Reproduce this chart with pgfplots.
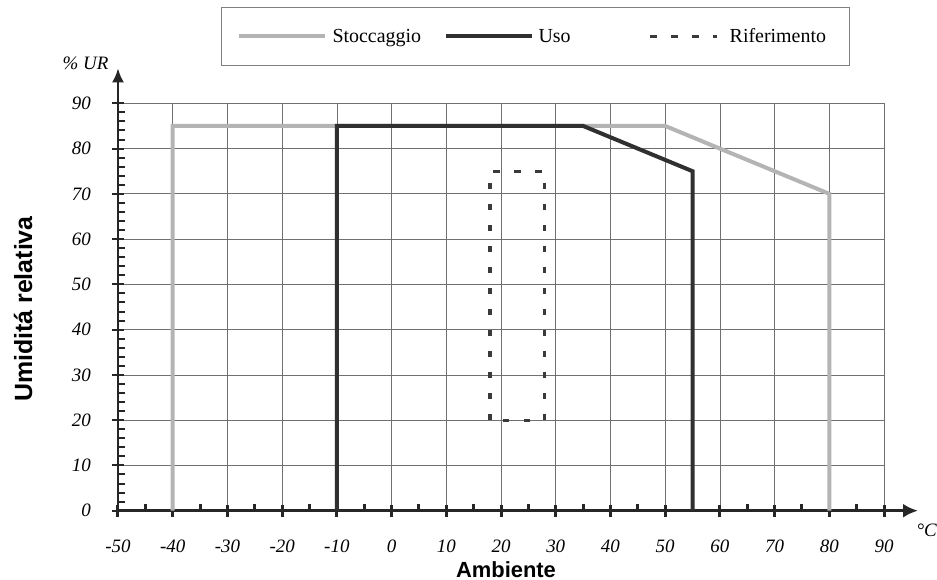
\documentclass[border=0pt]{standalone}
\usepackage{fontspec}
\setmainfont{Liberation Serif}
\newfontfamily\arialfont{Liberation Sans}
\usepackage{pgfplots}
\pgfplotsset{compat=1.18}
\usetikzlibrary{arrows.meta}

\definecolor{stoc}{HTML}{B4B4B4}
\definecolor{uso}{HTML}{303030}
\definecolor{rif}{HTML}{3A3A3A}
\definecolor{gridc}{HTML}{707070}

% legend image of the given length
\pgfplotsset{
  long legend/.style={legend image code/.code={\draw[##1] (0bp,0bp) -- (86bp,0bp);}},
  short legend/.style={legend image code/.code={\draw[##1] (0bp,0bp) -- (67bp,0bp);}},
}

\begin{document}
\begin{tikzpicture}
\begin{axis}[
  scale only axis,
  width=766bp, height=407.4bp,
  xmin=-50, xmax=90, ymin=0, ymax=90,
  axis lines=left,
  clip mode=individual,
  xtick={-50,-40,...,90}, ytick={0,10,...,90},
  minor x tick num=1, minor y tick num=4,
  grid=major,
  major grid style={gridc, line width=0.7bp},
  tick align=center,
  major tick length=12bp, minor tick length=7bp,
  x tick style={black!85, line width=3bp},
  y tick style={black!85, line width=2bp},
  minor x tick style={yshift=3.5bp},
  minor y tick style={xshift=3.5bp},
  x axis line style={black!85, line width=3.5bp, -{Latex[length=15bp,width=14bp]}, shorten >=-34bp},
  y axis line style={black!85, line width=2.5bp, -{Latex[length=14bp,width=12bp]}, shorten >=-35bp},
  /pgf/number format/assume math mode=true,
  ticklabel style={font=\fontsize{19}{20}\selectfont\itshape},
  xticklabel style={anchor=base, inner sep=0pt, yshift=-36bp},
  yticklabel style={anchor=east, inner sep=0pt, xshift=-21bp},
  xlabel={Ambiente},
  xlabel style={at={(axis description cs:0.5065,-0.1632)}, anchor=base, font=\arialfont\bfseries\fontsize{22}{24}\selectfont},
  ylabel={Umiditá relativa},
  ylabel style={at={(axis description cs:-0.124,0.495)}, anchor=center, font=\arialfont\bfseries\fontsize{25}{27}\selectfont},
  long legend,
  legend columns=-1,
  legend cell align=left,
  legend style={at={(axis description cs:0.1345,1.2364)}, anchor=north west,
    draw=black!50, line width=1bp, inner xsep=15bp, inner ysep=21bp,
    nodes={inner sep=0pt}, column sep=0pt,
    font=\fontsize{20}{22}\selectfont},
]
\addplot[stoc, line width=4bp] coordinates {(-40,0) (-40,85) (50,85) (80,70) (80,0)};
\addplot[uso, line width=4bp] coordinates {(-10,0) (-10,85) (35,85) (55,75) (55,0)};
\addplot[rif, line width=3.2bp, dash pattern=on 6.5bp off 14.5bp, short legend]
  coordinates {(18,20) (18,75) (28,75) (28,20) (18,20)};
\legend{\hspace*{6bp}\makebox[111bp][l]{Stoccaggio},
        \hspace*{5bp}\makebox[110bp][l]{Uso},
        \hspace*{11bp}\makebox[105bp][l]{Riferimento}}
\node[anchor=base east, font=\fontsize{19}{20}\selectfont\itshape] at (axis description cs:-0.008,1.0818) {\% UR};
\node[anchor=base west, font=\fontsize{19}{20}\selectfont\itshape] at (axis description cs:1.0379,-0.0638) {°C};
\end{axis}
\pgfresetboundingbox
\path (-118bp,-69.3bp) rectangle (819bp,510.7bp);
\end{tikzpicture}
\end{document}
